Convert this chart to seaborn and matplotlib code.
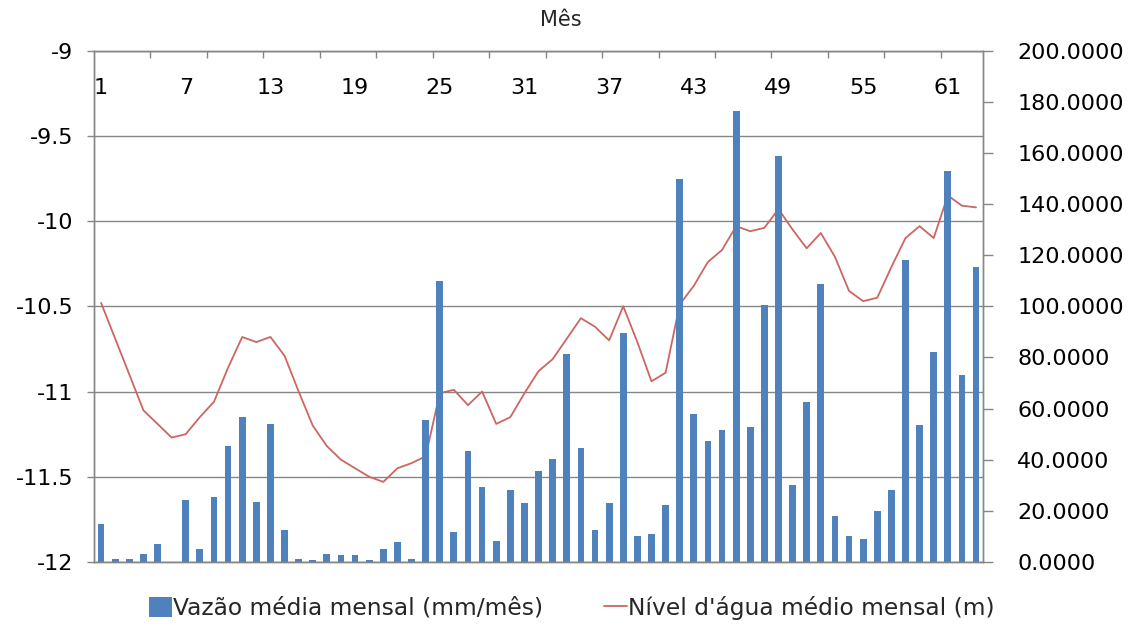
import numpy as np
import pandas as pd
import matplotlib
matplotlib.use("Agg")
import matplotlib.pyplot as plt
import seaborn as sns
from matplotlib.ticker import FuncFormatter, MultipleLocator, FixedLocator

# ---- data ----
months = list(range(1, 64))
vazao = [14.7, 1.2, 1.2, 3.3, 7.2, 0.2, 24.3, 5.1, 25.5, 45.2,
         56.6, 23.6, 54.1, 12.7, 1.2, 0.7, 3.3, 2.7, 2.7, 0.7,
         5.1, 7.7, 1.2, 55.4, 110.0, 11.6, 43.3, 29.3, 8.4, 28.1,
         23.0, 35.7, 40.2, 81.4, 44.6, 12.7, 23.0, 89.6, 10.3, 11.0,
         22.3, 149.9, 57.8, 47.2, 51.7, 176.2, 52.9, 100.5, 158.8, 30.1,
         62.4, 108.9, 17.9, 10.3, 9.0, 19.9, 28.1, 118.2, 53.4, 82.2,
         152.7, 73.1, 115.2]
nivel = [-10.48, -10.69, -10.90, -11.11, -11.19, -11.27, -11.25, -11.15, -11.06, -10.86,
         -10.68, -10.71, -10.68, -10.79, -11.00, -11.20, -11.32, -11.40, -11.45, -11.50,
         -11.53, -11.45, -11.42, -11.38, -11.01, -10.99, -11.08, -11.00, -11.19, -11.15,
         -11.01, -10.88, -10.81, -10.69, -10.57, -10.62, -10.70, -10.50, -10.71, -10.94,
         -10.89, -10.49, -10.38, -10.24, -10.17, -10.03, -10.06, -10.04, -9.93, -10.05,
         -10.16, -10.07, -10.21, -10.41, -10.47, -10.45, -10.27, -10.10, -10.03, -10.10,
         -9.85, -9.91, -9.92]
label_bar = "Vazão média mensal (mm/mês)"
label_line = "Nível d'água médio mensal (m)"
x_title = "Mês"

df = pd.DataFrame({"mes": months, "vazao": vazao, "nivel": nivel})

sns.set_theme(style="white")
plt.rcParams["font.family"] = ["DejaVu Sans"]

GRAY = "#868686"
BLUE = "#4F81BD"
RED = "#CC6662"

fig = plt.figure(figsize=(11.3, 6.3), dpi=100)
ax = fig.add_axes([0.0832, 0.1079, 0.7868, 0.8119])

sns.lineplot(data=df, x="mes", y="nivel", ax=ax, color=RED, linewidth=1.3)
ax2 = ax.twinx()
sns.barplot(data=df, x="mes", y="vazao", ax=ax2, native_scale=True,
            color=BLUE, saturation=1, width=0.48, linewidth=0)

ax.set_xlim(0.5, 63.5)
ax2.set_xlim(0.5, 63.5)
ax.set_ylim(-12, -9)
ax2.set_ylim(0, 200)
ax.set_ylabel("")
ax2.set_ylabel("")

# grid
ax.yaxis.grid(True, color=GRAY, linewidth=1)
ax.xaxis.grid(False)
ax2.grid(False)
for a in (ax, ax2):
    for s in a.spines.values():
        s.set_color(GRAY)
        s.set_linewidth(1)

# left y axis
ax.yaxis.set_major_locator(MultipleLocator(0.5))
ax.yaxis.set_major_formatter(FuncFormatter(lambda v, p: f"{v:g}"))
ax.tick_params(axis="y", direction="out", length=5, width=1, color=GRAY,
               pad=10, labelsize=16, labelcolor="black", left=True)

# right y axis
ax2.yaxis.set_major_locator(MultipleLocator(20))
ax2.yaxis.set_major_formatter(FuncFormatter(lambda v, p: f"{v:.4f}"))
ax2.tick_params(axis="y", direction="out", length=7.5, width=1, color=GRAY,
                pad=17, labelsize=16, labelcolor="black", right=True)

# x axis on top, labels inside
ax.xaxis.set_ticks_position("top")
ax.xaxis.set_label_position("top")
ax.set_xticks(months[::6])
ax.set_xticklabels([str(m) for m in months[::6]])
ax.xaxis.set_minor_locator(FixedLocator(np.arange(4.5, 61, 4)))
ax.tick_params(axis="x", which="major", length=0, pad=-27, labelsize=16,
               labelcolor="black", top=True, bottom=False)
ax.tick_params(axis="x", which="minor", direction="in", length=5, width=1,
               color=GRAY, top=True, bottom=False)
plt.setp(ax.get_xticklabels(), va="center")

ax.set_xlabel(x_title, fontsize=15)
ax.xaxis.set_label_coords(0.525, 1.06)
ax.xaxis.label.set_va("center")

# legend
fig.legend([ax2.containers[0], ax.lines[0]], [label_bar, label_line],
           loc="center", bbox_to_anchor=(0.506, 0.035), ncol=2, frameon=False,
           fontsize=16.8, handlelength=1.0, handleheight=1.0, handletextpad=0.05,
           columnspacing=2.6)

fig.savefig("out.png", dpi=100)
